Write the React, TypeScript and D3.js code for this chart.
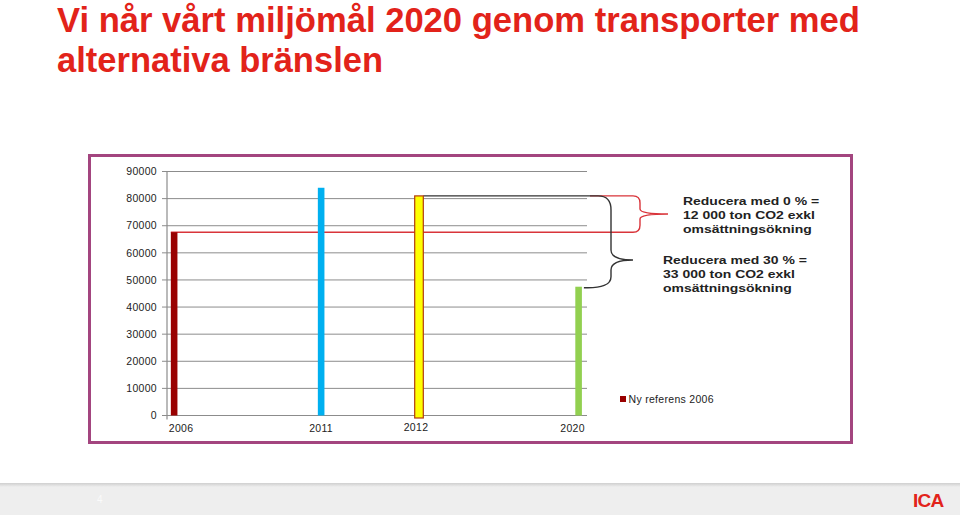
import React from "react";
import * as d3 from "d3";

const categories = ["2006", "2011", "2012", "2020"];
const values = [67600, 84000, 81000, 47500];
const barColors = ["#990000", "#00B0F0", "#FFFF00", "#92D050"];
const yTicks = [0, 10000, 20000, 30000, 40000, 50000, 60000, 70000, 80000, 90000];
const slotFractions = [0.017, 0.367, 0.6, 0.98];
const titleLines = ["Vi når vårt miljömål 2020 genom transporter med", "alternativa bränslen"];
const note1 = ["Reducera med 0 % =", "12 000 ton CO2 exkl", "omsättningsökning"];
const note2 = ["Reducera med 30 % =", "33 000 ton CO2 exkl", "omsättningsökning"];
const legendLabel = "Ny referens 2006";

const W = 960;
const H = 515;
const plotLeft = 167;
const plotRight = 587;
const plotTop = 171.5;
const plotBottom = 415.5;
const barW = 6.6;

export default function App() {
  const y = d3.scaleLinear().domain([0, 90000]).range([plotBottom, plotTop]);
  const slot = d3.scaleLinear().domain([0, 1]).range([plotLeft, plotRight]);
  const x = d3
    .scaleOrdinal<string, number>()
    .domain(categories)
    .range(slotFractions.map((f) => slot(f)));

  const y2006 = y(values[0]);
  const y2012 = y(values[2]);
  const y2020 = y(values[3]);
  const x2006 = x("2006");
  const x2012 = x("2012");
  const x2020 = x("2020");

  // red brace (0%): spans from 2012 level to 2006 level
  const rb = 633;
  const rv = 640;
  const rTipX = 668;
  const rMid = (y2012 + y2006) / 2;
  const redPath =
    `M${x2006 - barW / 2},${y2006} L${rb},${y2006} ` +
    `Q${rv},${y2006} ${rv},${y2006 - 7} L${rv},${rMid + 5} Q${rv},${rMid} ${rTipX},${rMid} ` +
    `Q${rv},${rMid} ${rv},${rMid - 5} L${rv},${y2012 + 7} Q${rv},${y2012} ${rb},${y2012} L590,${y2012}`;

  // black brace (30%): spans from 2012 level to 2020 level
  const bMid = 260;
  const bv = 611;
  const blackPath =
    `M${x2012 + barW / 2 + 1},${y2012} L598,${y2012} ` +
    `Q${bv},${y2012} ${bv},${y2012 + 14} L${bv},${bMid - 10} Q${bv},${bMid} ${633},${bMid} ` +
    `Q${bv},${bMid} ${bv},${bMid + 10} L${bv},${y2020 - 10} Q${bv},${y2020 + 2} ${x2020 + barW / 2 + 2},${y2020 + 1}`;

  const gridColor = "#8c8c8c";
  const font = "'Liberation Sans', Arial, sans-serif";

  return (
    <svg
      width={W}
      height={H}
      viewBox={`0 0 ${W} ${H}`}
      style={{ position: "absolute", left: 0, top: 0, background: "#fff" }}
      fontFamily={font}
    >
      <defs>
        <linearGradient id="footShade" x1="0" y1="0" x2="0" y2="1">
          <stop offset="0" stopColor="#cfcfcf" />
          <stop offset="1" stopColor="#eeeeee" />
        </linearGradient>
      </defs>

      {/* Title */}
      <text x={57} y={32} fill="#E2231A" fontSize={35} fontWeight="bold" textLength={803} lengthAdjust="spacingAndGlyphs">
        {titleLines[0]}
      </text>
      <text x={57} y={72} fill="#E2231A" fontSize={35} fontWeight="bold" textLength={326} lengthAdjust="spacingAndGlyphs">
        {titleLines[1]}
      </text>

      {/* Chart frame */}
      <rect x={89.5} y={155.5} width={762} height={287} fill="#fff" stroke="#A3457F" strokeWidth={3} />

      {/* Gridlines */}
      {yTicks.map((t) => (
        <g key={t}>
          <line x1={plotLeft} x2={plotRight} y1={y(t)} y2={y(t)} stroke={gridColor} strokeWidth={1} />
          <line x1={plotLeft - 5} x2={plotLeft} y1={y(t)} y2={y(t)} stroke={gridColor} strokeWidth={1} />
          <text
            x={plotLeft - 10}
            y={y(t)}
            dy="0.35em"
            textAnchor="end"
            fontSize={10.5}
            letterSpacing={0.3}
            fill="#222"
          >
            {t}
          </text>
        </g>
      ))}
      <line x1={plotLeft} x2={plotLeft} y1={plotTop} y2={plotBottom + 4} stroke={gridColor} strokeWidth={1.2} />
      <line x1={plotLeft} x2={plotRight} y1={plotBottom} y2={plotBottom} stroke={gridColor} strokeWidth={1.2} />

      {/* Connector lines and braces */}
      <path d={redPath} fill="none" stroke="#D9343A" strokeWidth={1.4} />
      <path d={blackPath} fill="none" stroke="#333" strokeWidth={1.4} />

      {/* Bars */}
      {categories.map((c, i) => {
        const cx = x(c);
        const isYellow = c === "2012";
        return (
          <rect
            key={c}
            x={cx - barW / 2 - (isYellow ? 1 : 0)}
            y={y(values[i])}
            width={barW + (isYellow ? 2 : 0)}
            height={plotBottom - y(values[i]) + (isYellow ? 2.5 : 0)}
            fill={barColors[i]}
            stroke={isYellow ? "#B23A0E" : "none"}
            strokeWidth={isYellow ? 1.2 : 0}
          />
        );
      })}

      {/* X labels */}
      {categories.map((c) => (
        <text
          key={c}
          x={x(c) + (c === "2006" ? 7 : c === "2020" ? -6 : c === "2012" ? -3 : 0)}
          y={c === "2012" ? 430.5 : 432}
          textAnchor="middle"
          fontSize={10.5}
          letterSpacing={0.3}
          fill="#222"
        >
          {c}
        </text>
      ))}

      {/* Annotations */}
      {note1.map((l, i) => (
        <text
          key={l}
          transform={`translate(683,${204.5 + i * 14}) scale(1.27,1)`}
          fontSize={11}
          fontWeight="bold"
          fill="#222"
        >
          {l}
        </text>
      ))}
      {note2.map((l, i) => (
        <text
          key={l}
          transform={`translate(663,${263.5 + i * 14}) scale(1.27,1)`}
          fontSize={11}
          fontWeight="bold"
          fill="#222"
        >
          {l}
        </text>
      ))}

      {/* Legend */}
      <rect x={620} y={396} width={6} height={6} fill={barColors[0]} />
      <text x={628.5} y={402.5} fontSize={10.5} letterSpacing={0.3} fill="#222">
        {legendLabel}
      </text>

      {/* Footer */}
      <rect x={0} y={484} width={W} height={31} fill="#eeeeee" />
      <rect x={0} y={483} width={W} height={4} fill="url(#footShade)" />
      <text x={97} y={503} fontSize={10} fill="#fafafa">
        4
      </text>
      <text x={913} y={507} fontSize={19} fontWeight="bold" fill="#E2231A" letterSpacing={-0.8}>
        ICA
      </text>
    </svg>
  );
}
